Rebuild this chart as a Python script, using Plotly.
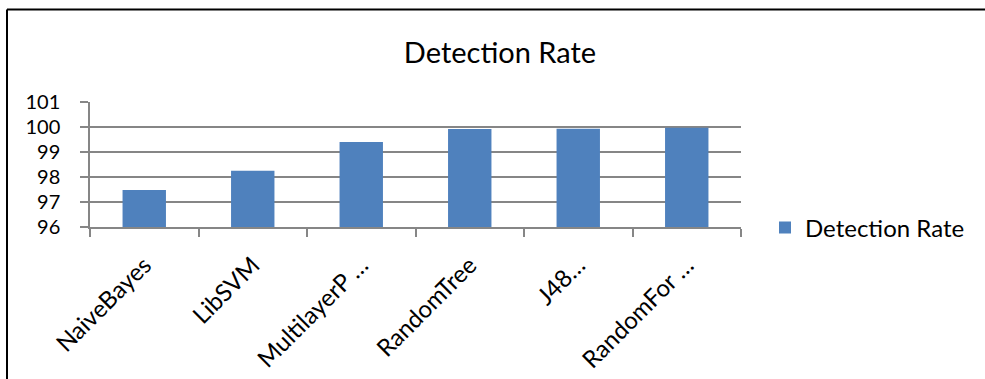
import plotly.graph_objects as go

# Detection rate (%) per classifier
classifiers = ["NaiveBayes", "LibSVM", "MultilayerP …", "RandomTree", "J48…", "RandomFor …"]
detection_rate = [97.48, 98.25, 99.40, 99.92, 99.93, 99.97]
y_ticks = [96, 97, 98, 99, 100, 101]

W, H = 985, 379
ML, MR, MT, MB = 90, 244, 102, 152
PW, PH = W - ML - MR, H - MT - MB

def px_x(x):
    return (x - ML) / PW

def px_y(y):
    return 1 - (y - MT) / PH

FONT = "Lato"
BLUE = "#4F81BD"
GRID = "#868686"

fig = go.Figure(
    go.Bar(
        x=classifiers,
        y=detection_rate,
        name="Detection Rate",
        marker=dict(color=BLUE, line=dict(width=0)),
    )
)

fig.update_layout(
    width=W,
    height=H,
    margin=dict(l=ML, r=MR, t=MT, b=MB, autoexpand=False),
    paper_bgcolor="white",
    plot_bgcolor="white",
    bargap=0.6,
    font=dict(family=FONT, size=20, color="black"),
    title=dict(
        text="Detection Rate",
        x=px_x(500), xref="paper", xanchor="center",
        y=1 - 53 / H, yref="container", yanchor="middle",
        font=dict(family=FONT, size=29, color="black"),
    ),
    showlegend=True,
    legend=dict(
        x=px_x(765), xanchor="left",
        y=px_y(228), yanchor="middle",
        font=dict(family=FONT, size=24, color="black"),
        bgcolor="rgba(0,0,0,0)",
        itemwidth=30,
    ),
    shapes=[
        # chart frame: top and left edges
        dict(type="line", xref="paper", yref="paper",
             x0=px_x(7), x1=px_x(W + 5), y0=px_y(9.5), y1=px_y(9.5),
             line=dict(color="black", width=2)),
        dict(type="line", xref="paper", yref="paper",
             x0=px_x(7), x1=px_x(7), y0=px_y(9.5), y1=px_y(H + 5),
             line=dict(color="black", width=2)),
    ],
)

fig.update_xaxes(
    type="category",
    tickangle=-45,
    tickson="boundaries",
    ticks="outside",
    ticklen=8,
    tickwidth=1.5,
    tickcolor=GRID,
    showline=True,
    linecolor=GRID,
    linewidth=1.5,
    showgrid=False,
    ticklabelstandoff=13,
    tickfont=dict(family=FONT, size=24, color="black"),
)
fig.update_yaxes(
    range=[96, 101],
    tickvals=y_ticks,
    ticktext=[str(v) for v in y_ticks],
    ticks="outside",
    ticklen=8,
    tickwidth=1.5,
    tickcolor=GRID,
    showline=True,
    linecolor=GRID,
    linewidth=1.5,
    showgrid=True,
    gridcolor=GRID,
    gridwidth=1.5,
    zeroline=False,
    ticklabelstandoff=16,
    tickfont=dict(family=FONT, size=20, color="black"),
)

fig.write_html("out.html")
